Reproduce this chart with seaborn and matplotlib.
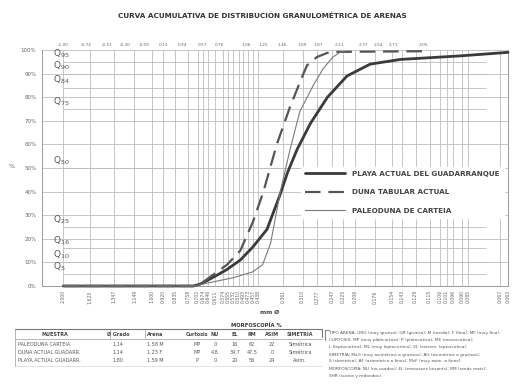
import matplotlib
matplotlib.use("Agg")
import matplotlib.pyplot as plt
import seaborn as sns
import pandas as pd
import numpy as np

# ---------------- data ----------------
title = "CURVA ACUMULATIVA DE DISTRIBUCIÓN GRANULOMÉTRICA DE ARENAS"
series_names = ["PLAYA ACTUAL DEL GUADARRANQUE", "DUNA TABULAR ACTUAL", "PALEODUNA DE CARTEIA"]

playa_phi = [-1.0, 0.46, 0.54, 0.69, 0.84, 0.99, 1.13, 1.29, 1.44, 1.52, 1.63, 1.78, 1.97, 2.19, 2.45, 2.79, 3.46, 4.0]
playa_pct = [0.0, 0.0, 0.8, 3.8, 7.0, 11.0, 16.5, 24.0, 39.0, 48.0, 58.0, 69.0, 80.0, 89.0, 94.0, 96.0, 97.5, 99.0]

duna_phi = [-1.0, 0.46, 0.54, 0.84, 0.99, 1.13, 1.25, 1.40, 1.55, 1.70, 1.74, 1.85, 1.97, 2.08, 3.09]
duna_pct = [0.0, 0.0, 0.8, 9.0, 15.0, 27.0, 40.0, 60.0, 76.0, 90.0, 93.5, 97.0, 98.8, 99.2, 99.5]

paleo_phi = [-1.0, 0.46, 0.91, 1.13, 1.24, 1.33, 1.44, 1.55, 1.66, 1.81, 1.92, 2.03, 2.11, 2.17]
paleo_pct = [0.0, 0.0, 3.5, 6.0, 9.0, 18.0, 40.0, 58.0, 74.0, 85.0, 92.0, 97.0, 99.0, 99.5]

q_levels = [95, 90, 84, 75, 50, 25, 16, 10, 5]
y_ticks = [0, 10, 20, 30, 40, 50, 60, 70, 80, 90, 100]
y_labels = ["0%", "10%", "20%", "30%", "40%", "50%", "60%", "70%", "80%", "90%", "100%"]

bottom_tick_phi = [-1.0, -0.70, -0.43, -0.20, 0.0, 0.12, 0.26, 0.40, 0.51, 0.57, 0.63, 0.71,
                   0.80, 0.85, 0.91, 0.97, 1.02, 1.08, 1.13, 1.19, 1.47, 1.69, 1.85, 2.02,
                   2.15, 2.28, 2.51, 2.70, 2.81, 2.96, 3.12, 3.24, 3.31, 3.38, 3.48, 3.55, 3.91, 4.0]
bottom_tick_labels = ["2.000", "1.625", "1.347", "1.149", "1.000", "0.920", "0.835", "0.758",
                      "0.702", "0.674", "0.646", "0.611", "0.574", "0.555", "0.532", "0.510",
                      "0.493", "0.473", "0.457", "0.438", "0.361", "0.310", "0.277", "0.247",
                      "0.225", "0.206", "0.176", "0.154", "0.143", "0.129", "0.115", "0.106",
                      "0.101", "0.096", "0.090", "0.085", "0.067", "0.063"]

top_tick_phi = [-1.0, -0.74, -0.51, -0.30, -0.09, 0.13, 0.34, 0.57, 0.76, 1.06, 1.25,
                1.46, 1.69, 1.87, 2.11, 2.37, 2.54, 2.71, 3.05]
top_tick_labels = ["-1.00", "-0.74", "-0.51", "-0.30", "-0.09", "0.13", "0.34", "0.57",
                   "0.76", "1.06", "1.25", "1.46", "1.69", "1.87", "2.11", "2.37", "2.54",
                   "2.71", "3.05"]

table_cols = ["MUESTRA", "Ø Grado", "Arena", "Curtosis", "NU", "EL", "RM", "ASIM", "SIMETRÍA"]
table_rows = [
    ["PALEODUNA CARTEIA", "1.14", "1.58 M", "MP", "0", "16", "62", "22", "Simétrica"],
    ["DUNA ACTUAL GUADARR.", "1.14", "1.23 F", "MP", "4.8", "34.7", "47.5", "0", "Simétrica"],
    ["PLAYA ACTUAL GUADARR.", "1.80", "1.59 M", "P", "0", "20", "56", "24", "Asim."],
]
table_group = "MORFOSCOPÍA %"
notes = [
    "TIPO ARENA: GRG (muy gruesa); GR (gruesa); M (media); F (fina); MF (muy fina).",
    "CURTOSIS: MP (muy platicúrtica); P (platicúrtica); ME (mesocúrtica);",
    "L (leptocúrtica); ML (muy leptocúrtica); EL (extrem. leptocúrtica).",
    "SIMETRÍA: MxG (muy asimétrica a gruesos); AG (asimétrica a gruesos);",
    "S (simétrica); AF (asimétrica a finos); MxF (muy asim. a finos).",
    "MORFOSCOPÍA: NU (no usados); EL (emoussés luisants); RM (ronds mats);",
    "SHR (sucios y redondos).",
]

# ---------------- figure ----------------
sns.set_style("white")
plt.rcParams["font.family"] = ["DejaVu Sans"]

W, H = 527, 385
fig = plt.figure(figsize=(W / 100, H / 100), dpi=100)
fig.patch.set_facecolor("white")


def fx(x):
    return x / W


def fy(y):
    return 1 - y / H


ax = fig.add_axes([fx(42), fy(286), (508 - 42) / W, (286 - 50) / H])
ax.set_xlim(-1.24, 4.0)
ax.set_ylim(0, 100)

grid_c = "#bdbdbd"
ax.spines["top"].set_visible(False)
for s in ["left", "right", "bottom"]:
    ax.spines[s].set_color("#9a9a9a")
    ax.spines[s].set_linewidth(0.7)

# grid
ax.set_yticks(y_ticks)
ax.set_yticklabels(y_labels)
ax.set_xticks(bottom_tick_phi)
ax.set_xticklabels(bottom_tick_labels, rotation=90)
ax.grid(True, color=grid_c, linewidth=0.6)
ax.tick_params(axis="both", length=0, colors="#666666")
ax.tick_params(axis="y", labelsize=4, pad=4)
ax.tick_params(axis="x", labelsize=3.3, pad=3)

# top axis
sec = ax.secondary_xaxis("top")
sec.set_xticks(top_tick_phi)
sec.set_xticklabels(top_tick_labels)
sec.tick_params(length=0, labelsize=3.1, colors="#666666", pad=2)
sec.spines["top"].set_visible(False)

# Q lines and labels
for q in q_levels:
    ax.hlines(q, -1.0, 3.75, color=grid_c, linewidth=0.6, zorder=1)
    ax.text(-1.12, q + 0.6, r"$\mathrm{Q}_{%d}$" % q, fontsize=6.5, color="#555555",
            ha="left", va="bottom")

# curves
styles = [
    dict(color="#3a3a3a", linewidth=2.0, linestyle="-"),
    dict(color="#555555", linewidth=1.6, linestyle=(0, (7, 3.5))),
    dict(color="#7a7a7a", linewidth=0.8, linestyle="-"),
]
xs = [playa_phi, duna_phi, paleo_phi]
ys = [playa_pct, duna_pct, paleo_pct]
for name, x, y, st in zip(series_names, xs, ys, styles):
    df = pd.DataFrame({"phi": x, "pct": y})
    sns.lineplot(data=df, x="phi", y="pct", ax=ax, sort=False, estimator=None,
                 label=name, zorder=3, **st)
for ln in ax.get_lines():
    ln.set_clip_on(False)
    ln.set_solid_joinstyle("round")

ax.set_xlabel("")
ax.set_ylabel("")

leg = ax.legend(loc="upper left", bbox_to_anchor=((297 - 42) / 466, (286 - 163) / 236),
                frameon=True, fancybox=False, framealpha=1.0, edgecolor="white",
                prop=dict(size=5.2, weight="bold"), handlelength=5.5, labelspacing=1.7,
                borderpad=0.6, handletextpad=1.0)
for t in leg.get_texts():
    t.set_color("#444444")

# texts
fig.text(fx(262), fy(16), title, ha="center", va="center", fontsize=5.2,
         weight="bold", color="#333333")
fig.text(fx(12), fy(167), "%", ha="center", va="center", fontsize=4.5, color="#555555")
fig.text(fx(270), fy(312), "mm Ø", ha="center", va="center", fontsize=4.2,
         weight="bold", color="#444444")

# table
col_x = [55, 118, 155, 197, 215, 235, 252, 272, 300]
row_y = [344, 353, 361]
fig.add_artist(plt.Line2D([fx(15), fx(322)], [fy(329), fy(329)], color="#777777", linewidth=0.8))
fig.add_artist(plt.Line2D([fx(15), fx(322)], [fy(339), fy(339)], color="#999999", linewidth=0.5))
fig.add_artist(plt.Line2D([fx(15), fx(15)], [fy(329), fy(366)], color="#999999", linewidth=0.5))
fig.add_artist(plt.Line2D([fx(322), fx(322)], [fy(329), fy(337)], color="#777777", linewidth=0.8))
fig.add_artist(plt.Line2D([fx(15), fx(322)], [fy(366), fy(366)], color="#cccccc", linewidth=0.4))
for sx in [110, 145]:
    fig.add_artist(plt.Line2D([fx(sx), fx(sx)], [fy(330), fy(338)], color="#999999", linewidth=0.5))
fig.text(fx(256), fy(325), table_group, ha="center", va="center", fontsize=3.8,
         weight="bold", color="#333333")
for cx, c in zip(col_x, table_cols):
    fig.text(fx(cx), fy(334), c, ha="center", va="center", fontsize=3.5, weight="bold",
             color="#444444")
for ry, row in zip(row_y, table_rows):
    for j, (cx, v) in enumerate(zip(col_x, row)):
        if j == 0:
            fig.text(fx(18), fy(ry), v, ha="left", va="center", fontsize=3.5, color="#555555")
        else:
            fig.text(fx(cx), fy(ry), v, ha="center", va="center", fontsize=3.5, color="#555555")

# notes
fig.add_artist(plt.Line2D([fx(325), fx(325)], [fy(330), fy(340)], color="#888888", linewidth=0.8))
fig.add_artist(plt.Line2D([fx(325), fx(329)], [fy(330), fy(330)], color="#888888", linewidth=0.8))
for i, line in enumerate(notes):
    fig.text(fx(329), fy(333 + i * 7.1), line, ha="left", va="center", fontsize=3.1,
             color="#555555")

fig.savefig("out.png", dpi=100, facecolor="white")
